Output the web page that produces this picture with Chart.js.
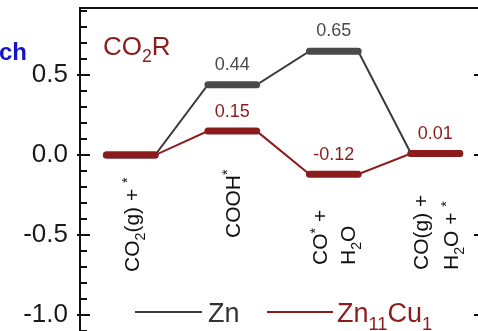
<!DOCTYPE html>
<html><head><meta charset="utf-8">
<script src="https://cdn.jsdelivr.net/npm/chart.js@4.4.0/dist/chart.umd.min.js"></script>
<style>html,body{margin:0;padding:0;background:#fff;overflow:hidden}</style>
</head><body>
<canvas id="c" width="478" height="331"></canvas>
<script>
// ---- data ----
const steps = [1, 2, 3, 4];
const znValues = [0.00, 0.44, 0.65, 0.01];
const znCuValues = [0.00, 0.15, -0.12, 0.01];
const znLabels = [null, '0.44', '0.65', null];
const znCuLabels = [null, '0.15', '-0.12', '0.01'];
const yTicks = [-1.0, -0.5, 0.0, 0.5];
const seriesNames = [[['Zn', '']], [['Zn', ''], ['11', 'sub'], ['Cu', ''], ['1', 'sub']]];
const titleText = [['CO', ''], ['2', 'sub'], ['R', '']];
const stepLabels = [
  [[['CO', ''], ['2', 'sub'], ['(g) + ', ''], ['*', 'sup']]],
  [[['COOH', ''], ['*', 'sup']]],
  [[['CO', ''], ['*', 'sup'], [' +', '']], [['H', ''], ['2', 'sub'], ['O', '']]],
  [[['CO(g) +', '']], [['H', ''], ['2', 'sub'], ['O + ', ''], ['*', 'sup']]]
];

// ---- styles / layout ----
const GRAY = '#4a4a4a', GRAY_LINK = '#3a3a3a', RED = '#8c1c1c';
const FONT = '"Liberation Sans", Arial, sans-serif';
const HALF = 0.24;
// per-step label placement: [screen x offset of each line baseline, bottom y]
const labelPlace = [[[8.5], 272], [[7.5], 238], [[-6.5, 21.5], 265], [[-7, 23], 270]];

function levelData(vals) {
  const out = [];
  steps.forEach((s, i) => {
    out.push({x: s - HALF, y: vals[i]}, {x: s + HALF, y: vals[i]});
    if (i < steps.length - 1) out.push({x: s + 0.5, y: null});
  });
  return out;
}
function linkData(vals) {
  const out = [];
  steps.forEach((s, i) => out.push({x: s - HALF, y: vals[i]}, {x: s + HALF, y: vals[i]}));
  return out;
}

function drawRich(ctx, segs, x, y, size) {
  let cx = x;
  for (const [t, k] of segs) {
    const s = k ? size * 0.68 : size;
    ctx.font = s + 'px ' + FONT;
    const dy = k === 'sub' ? size * 0.28 : (k === 'sup' ? -size * 0.36 : 0);
    ctx.fillText(t, cx, y + dy);
    cx += ctx.measureText(t).width;
  }
  return cx;
}

const decor = {
  id: 'decor',
  afterDraw(chart) {
    const ctx = chart.ctx, xs = chart.scales.x, ys = chart.scales.y, a = chart.chartArea;
    ctx.save();
    // top frame
    ctx.strokeStyle = '#111'; ctx.lineWidth = 2;
    ctx.beginPath(); ctx.moveTo(a.left - 1, a.top); ctx.lineTo(chart.width, a.top); ctx.stroke();
    // inner ticks
    for (let t = -11; t <= 9; t++) {
      const y = Math.round(ys.getPixelForValue(t / 10));
      const major = t % 5 === 0;
      ctx.beginPath();
      ctx.moveTo(a.left - (major ? 3 : 0), y);
      ctx.lineTo(a.left + (major ? 10 : 7), y);
      ctx.stroke();
    }
    // neighbour panel ticks at right edge
    yTicks.forEach(v => {
      const y = Math.round(ys.getPixelForValue(v));
      ctx.beginPath(); ctx.moveTo(474, y); ctx.lineTo(478, y); ctx.stroke();
    });
    // value labels
    ctx.textAlign = 'center'; ctx.textBaseline = 'middle';
    ctx.font = '18px ' + FONT;
    steps.forEach((s, i) => {
      const x = xs.getPixelForValue(s);
      if (znLabels[i]) { ctx.fillStyle = GRAY; ctx.fillText(znLabels[i], x, ys.getPixelForValue(znValues[i]) - 20); }
      if (znCuLabels[i]) { ctx.fillStyle = RED; ctx.fillText(znCuLabels[i], x, ys.getPixelForValue(znCuValues[i]) - 19); }
    });
    // title
    ctx.textAlign = 'left'; ctx.textBaseline = 'alphabetic';
    ctx.fillStyle = RED;
    drawRich(ctx, titleText, 103, 55, 26);
    // step labels (rotated)
    ctx.fillStyle = '#111';
    steps.forEach((s, i) => {
      const x0 = xs.getPixelForValue(s);
      const [offs, bottom] = labelPlace[i];
      stepLabels[i].forEach((line, j) => {
        ctx.save();
        ctx.translate(x0 + offs[j], bottom);
        ctx.rotate(-Math.PI / 2);
        drawRich(ctx, line, 0, 0, 21);
        ctx.restore();
      });
    });
    // legend
    ctx.lineWidth = 2;
    ctx.strokeStyle = GRAY_LINK;
    ctx.beginPath(); ctx.moveTo(135, 312); ctx.lineTo(202, 312); ctx.stroke();
    ctx.fillStyle = '#333';
    drawRich(ctx, seriesNames[0], 208, 322, 27);
    ctx.strokeStyle = RED;
    ctx.beginPath(); ctx.moveTo(267, 312); ctx.lineTo(333, 312); ctx.stroke();
    ctx.fillStyle = RED;
    drawRich(ctx, seriesNames[1], 337, 322, 27);
    // cropped neighbour title fragment
    ctx.fillStyle = '#1414c8';
    ctx.font = 'bold 24px ' + FONT;
    ctx.textAlign = 'right';
    ctx.fillText('ch', 27, 60);
    ctx.restore();
  }
};

new Chart(document.getElementById('c'), {
  type: 'line',
  data: {
    datasets: [
      {label: 'Zn11Cu1', data: levelData(znCuValues), borderColor: RED, borderWidth: 7, borderCapStyle: 'round', pointRadius: 0, spanGaps: false, order: 1},
      {label: 'Zn', data: levelData(znValues), borderColor: GRAY, borderWidth: 7, borderCapStyle: 'round', pointRadius: 0, spanGaps: false, order: 2},
      {label: 'Zn11Cu1 link', data: linkData(znCuValues), borderColor: RED, borderWidth: 2, pointRadius: 0, order: 3},
      {label: 'Zn link', data: linkData(znValues), borderColor: GRAY_LINK, borderWidth: 2, pointRadius: 0, order: 4}
    ]
  },
  options: {
    responsive: false,
    animation: false,
    devicePixelRatio: 1,
    layout: {padding: {top: 8, left: 0, right: 0, bottom: 0}},
    plugins: {legend: {display: false}, tooltip: {enabled: false}},
    elements: {line: {tension: 0}},
    scales: {
      x: {type: 'linear', min: 0.5, max: 4.42, display: false},
      y: {
        type: 'linear', min: -1.1, max: 0.92, position: 'left',
        afterBuildTicks(s) { s.ticks = yTicks.map(v => ({value: v})); },
        afterFit(s) { s.width = 80; s.paddingTop = 0; s.paddingBottom = 0; },
        ticks: {font: {family: FONT, size: 26}, color: '#1a1a1a', padding: 12, callback: v => Number(v).toFixed(1)},
        grid: {display: false, drawTicks: false},
        border: {display: true, color: '#111', width: 2}
      }
    }
  },
  plugins: [decor]
});
</script>
</body></html>
